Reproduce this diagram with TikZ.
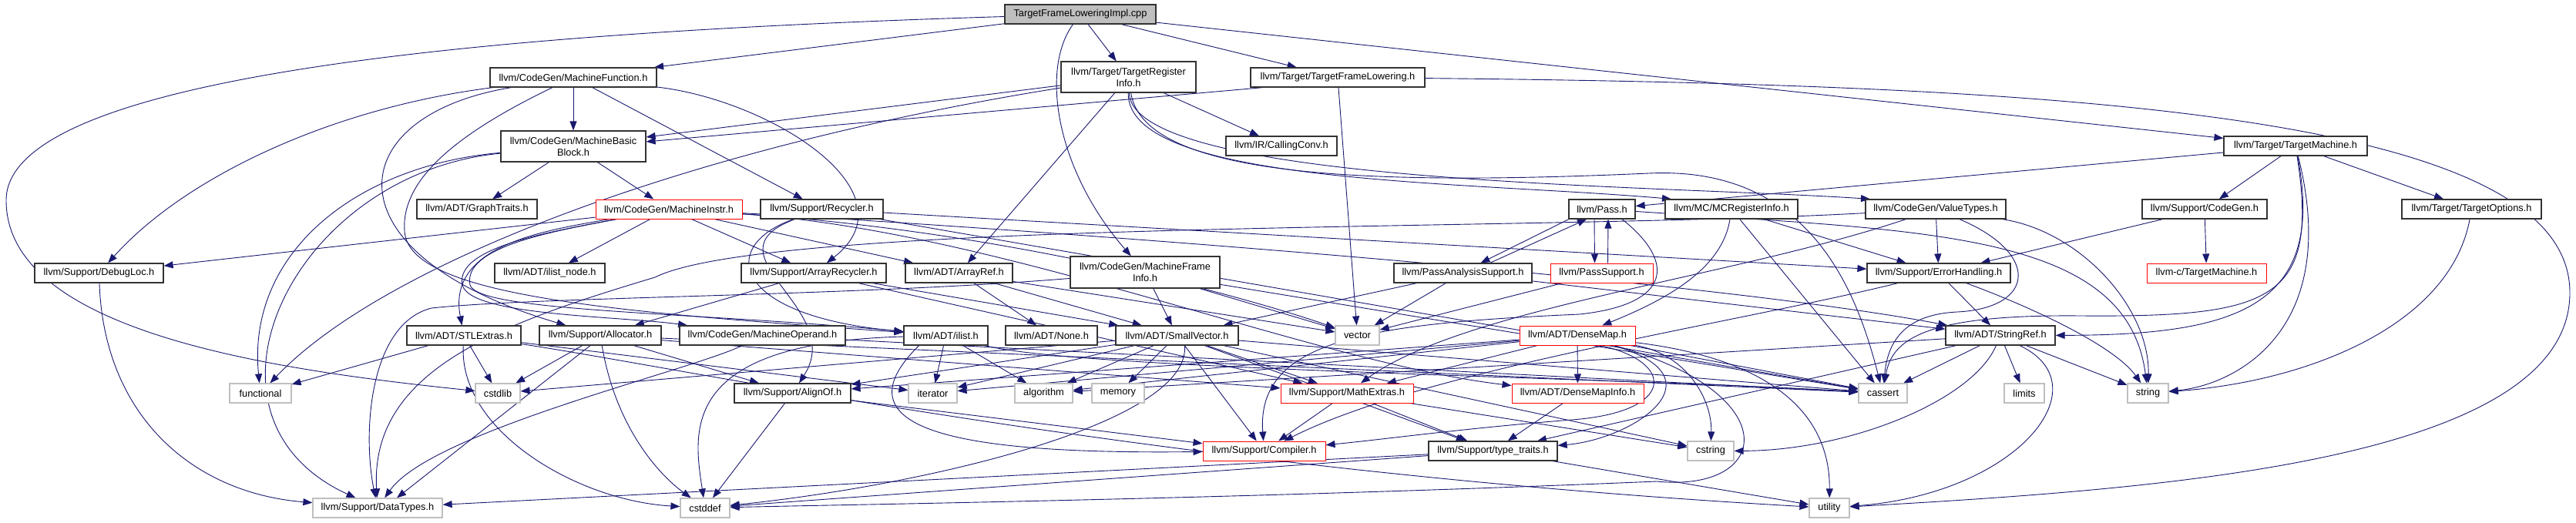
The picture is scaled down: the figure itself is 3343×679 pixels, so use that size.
\documentclass[tikz,border=0pt]{standalone}
\usepackage{fontspec}
\setmainfont{Liberation Sans}
\usetikzlibrary{arrows.meta, backgrounds}
\definecolor{edgeblue}{HTML}{191970}
\definecolor{sysgray}{HTML}{BFBFBF}
\newcommand{\hdrfont}{\fontsize{12.8}{15}\selectfont}

\begin{document}
\begin{tikzpicture}[x=1pt, y=-1pt,
    hdr/.style={draw=black!80, line width=1.2pt, fill=white, minimum height=25pt, inner sep=0pt, font=\hdrfont},
    hdrtwo/.style={hdr, minimum height=40pt, align=center},
    trunc/.style={hdr, draw=red, line width=1pt},
    sys/.style={hdr, draw=sysgray},
    rootbox/.style={hdr, fill=sysgray},
    dep/.style={draw=edgeblue, line width=0.9pt, -{Triangle[length=12pt, width=9pt]}}]
\useasboundingbox (0,0) rectangle (3343,679);

\node[rootbox, minimum width=196pt] (root) at (1402,18.5) {TargetFrameLoweringImpl.cpp};

\node[hdr, minimum width=216pt] (mfunc) at (744,100.5) {llvm/CodeGen/MachineFunction.h};
\node[hdrtwo, minimum width=175pt] (tri) at (1464.5,100) {llvm/Target/TargetRegister\\Info.h};
\node[hdr, minimum width=226pt] (tfl) at (1736,100.5) {llvm/Target/TargetFrameLowering.h};

\node[hdrtwo, minimum width=188pt] (mbb) at (744,190) {llvm/CodeGen/MachineBasic\\Block.h};
\node[hdr, minimum width=144pt] (callconv) at (1663,189.5) {llvm/IR/CallingConv.h};
\node[hdr, minimum width=186pt] (tm) at (2979,189.5) {llvm/Target/TargetMachine.h};

\node[hdr, minimum width=156pt] (graphtr) at (619,271.5) {llvm/ADT/GraphTraits.h};
\node[trunc, minimum width=190pt] (minstr) at (868,271.5) {llvm/CodeGen/MachineInstr.h};
\node[hdr, minimum width=159pt] (recyc) at (1066.5,271.5) {llvm/Support/Recycler.h};
\node[hdr, minimum width=86pt] (pass) at (2079,271.5) {llvm/Pass.h};
\node[hdr, minimum width=172pt] (mcri) at (2247,271.5) {llvm/MC/MCRegisterInfo.h};
\node[hdr, minimum width=182pt] (vtypes) at (2512,271.5) {llvm/CodeGen/ValueTypes.h};
\node[hdr, minimum width=162pt] (cgen) at (2861,271.5) {llvm/Support/CodeGen.h};
\node[hdr, minimum width=181pt] (topts) at (3207.5,271.5) {llvm/Target/TargetOptions.h};

\node[hdr, minimum width=167pt] (dbgloc) at (128.5,354.5) {llvm/Support/DebugLoc.h};
\node[hdr, minimum width=143pt] (ilnode) at (713.5,354.5) {llvm/ADT/ilist\_node.h};
\node[hdr, minimum width=188pt] (arecyc) at (1056,354.5) {llvm/Support/ArrayRecycler.h};
\node[hdr, minimum width=139pt] (aref) at (1244.5,354.5) {llvm/ADT/ArrayRef.h};
\node[hdrtwo, minimum width=194pt, minimum height=41pt] (mfi) at (1486,353.5) {llvm/CodeGen/MachineFrame\\Info.h};
\node[hdr, minimum width=179pt] (pas) at (1898.5,354.5) {llvm/PassAnalysisSupport.h};
\node[trunc, minimum width=133pt] (psup) at (2078.5,354.5) {llvm/PassSupport.h};
\node[hdr, minimum width=186pt] (errh) at (2516,354.5) {llvm/Support/ErrorHandling.h};
\node[trunc, minimum width=155pt] (ctm) at (2863.5,354.5) {llvm-c/TargetMachine.h};

\node[hdr, minimum width=148pt] (stlx) at (602,435.5) {llvm/ADT/STLExtras.h};
\node[hdr, minimum width=158pt] (alloc) at (779,435.5) {llvm/Support/Allocator.h};
\node[hdr, minimum width=215pt] (mop) at (989.5,435.5) {llvm/CodeGen/MachineOperand.h};
\node[hdr, minimum width=109pt] (ilist) at (1227.5,435.5) {llvm/ADT/ilist.h};
\node[hdr, minimum width=119pt] (none) at (1364.5,435.5) {llvm/ADT/None.h};
\node[hdr, minimum width=159pt] (svec) at (1527.5,435.5) {llvm/ADT/SmallVector.h};
\node[sys, minimum width=57pt] (vector) at (1761.5,435.5) {vector};
\node[trunc, minimum width=150pt] (dmap) at (2047,435.5) {llvm/ADT/DenseMap.h};
\node[hdr, minimum width=142pt] (sref) at (2596,435.5) {llvm/ADT/StringRef.h};

\node[sys, minimum width=80pt] (functional) at (338,510.5) {functional};
\node[sys, minimum width=58pt] (cstdlib) at (646,510.5) {cstdlib};
\node[hdr, minimum width=151pt] (alignof) at (1028.5,510.5) {llvm/Support/AlignOf.h};
\node[sys, minimum width=63pt] (iterator) at (1210.5,510.5) {iterator};
\node[sys, minimum width=75pt] (algorithm) at (1354.5,510.5) {algorithm};
\node[sys, minimum width=68pt] (memory) at (1451,510.5) {memory};
\node[trunc, minimum width=172pt] (mathx) at (1748,510.5) {llvm/Support/MathExtras.h};
\node[trunc, minimum width=171pt] (dmi) at (2047.5,510.5) {llvm/ADT/DenseMapInfo.h};
\node[sys, minimum width=63pt] (cassert) at (2443.5,510.5) {cassert};
\node[sys, minimum width=52pt] (limits) at (2627,510.5) {limits};
\node[sys, minimum width=53pt] (string) at (2787.5,510.5) {string};

\node[trunc, minimum width=159pt] (compiler) at (1640.5,585.5) {llvm/Support/Compiler.h};
\node[hdr, minimum width=167pt] (ttraits) at (1937.5,585.5) {llvm/Support/type\_traits.h};
\node[sys, minimum width=60pt] (cstring) at (2220,585.5) {cstring};

\node[sys, minimum width=168pt] (datatypes) at (490,659.5) {llvm/Support/DataTypes.h};
\node[sys, minimum width=64pt] (cstddef) at (915,659.5) {cstddef};
\node[sys, minimum width=52pt] (utility) at (2374,659.5) {utility};

\begin{scope}[on background layer]
\fill[white] (0,0) rectangle (3343,679);

\draw[dep] (root) .. controls (700,40) and (8,90) .. (8,260) .. controls (8,430) and (350,480) .. (cstdlib);
\foreach \tgt in {mfunc, tri, tfl, tm}
    \draw[dep] (root) -- (\tgt);
\draw[dep] (root) .. controls (1350,90) and (1370,220) .. (mfi);

\draw[dep] (mfunc) -- (mbb);
\draw[dep] (mfunc) -- (recyc);
\draw[dep] (mfunc) .. controls (430,140) and (240,230) .. (dbgloc);
\draw[dep] (mfunc) .. controls (440,150) and (420,330) .. (alloc);
\draw[dep] (mfunc) .. controls (600,170) and (520,230) .. (525,300) .. controls (530,385) and (800,405) .. (ilist);
\draw[dep] (mfunc) .. controls (1000,130) and (1190,250) .. (arecyc);

\draw[dep] (mbb) -- (graphtr);
\draw[dep] (mbb) -- (minstr);
\draw[dep] (mbb) .. controls (460,215) and (320,330) .. (functional);
\draw[dep] (mbb) .. controls (380,225) and (230,540) .. (datatypes);

\foreach \tgt in {dbgloc, ilnode, arecyc, aref}
    \draw[dep] (minstr) -- (\tgt);
\draw[dep] (minstr) .. controls (700,300) and (580,320) .. (stlx);
\draw[dep] (minstr) .. controls (720,300) and (590,320) .. (600,370) .. controls (610,410) and (800,410) .. (mop);
\draw[dep] (minstr) .. controls (720,300) and (600,320) .. (610,370) .. controls (620,405) and (900,405) .. (ilist);
\draw[dep] (minstr) .. controls (1300,300) and (1600,380) .. (vector);
\draw[dep] (minstr) .. controls (1300,300) and (1700,470) .. (dmi);
\draw[dep] (minstr) .. controls (1300,295) and (2200,360) .. (sref);

\draw[dep] (recyc) .. controls (930,320) and (950,410) .. (ilist);
\draw[dep] (recyc) .. controls (910,330) and (1100,400) .. (alignof);
\draw[dep] (recyc) -- (errh);
\draw[dep] (recyc) -- (cassert);

\foreach \tgt in {svec, alloc, mathx}
    \draw[dep] (arecyc) -- (\tgt);

\foreach \tgt in {callconv, aref}
    \draw[dep] (tri) -- (\tgt);
\draw[dep] (tri) -- ([yshift=12pt]mbb.east);
\draw[dep] (tri) .. controls (900,190) and (500,340) .. (functional);
\draw[dep] (tri) .. controls (1462,240) and (1900,235) .. ([xshift=-78pt]mcri.north);
\draw[dep] (tri) .. controls (1470,240) and (2150,240) .. ([xshift=-85pt]vtypes.north);
\draw[dep] (tri) .. controls (1485,235) and (1800,240) .. (2140,225) .. controls (2350,215) and (2410,380) .. (cassert);

\draw[dep] ([xshift=-97pt]tfl.south) -- ([yshift=6pt]mbb.east);
\draw[dep] (tfl) -- (vector);
\draw[dep] (tfl) .. controls (2700,110) and (3335,150) .. (3335,380) .. controls (3335,600) and (2800,635) .. (utility);

\foreach \tgt in {pass, cgen, topts}
    \draw[dep] (tm) -- (\tgt);
\draw[dep] (tm) .. controls (3010,390) and (2950,412) .. (2700,410) .. controls (2500,408) and (2455,440) .. (cassert);
\draw[dep] (tm) .. controls (3020,400) and (2900,435) .. (sref);
\draw[dep] (tm) .. controls (3040,430) and (2900,500) .. (string);

\foreach \tgt in {ctm, errh}
    \draw[dep] (cgen) -- (\tgt);
\draw[dep] (topts) .. controls (3180,420) and (3000,495) .. (string);

\draw[dep] ([xshift=-43pt]pass.south) -- ([xshift=23pt]pas.north);
\draw[dep] ([xshift=35pt]pas.north) -- ([xshift=-20pt]pass.south);
\draw[dep] ([xshift=-10pt]pass.south) -- ([xshift=-9pt]psup.north);
\draw[dep] ([xshift=8pt]psup.north) -- ([xshift=8pt]pass.south);
\draw[dep] (pass) .. controls (2500,300) and (2760,300) .. (string);
\draw[dep] ([xshift=26pt]pass.south) .. controls (2175,340) and (2170,395) .. (2050,408) .. controls (1780,420) and (1630,440) .. (compiler);

\foreach \tgt in {svec, vector, sref}
    \draw[dep] (pas) -- (\tgt);
\draw[dep] (psup) -- (vector);

\draw[dep] (mcri) .. controls (2235,350) and (2160,390) .. (dmap);
\draw[dep] (mcri) -- (errh);
\draw[dep] (mcri) -- (cassert);

\draw[dep] (vtypes) -- (errh);
\draw[dep] (vtypes) .. controls (2250,360) and (1900,400) .. (mathx);
\draw[dep] (vtypes) .. controls (2000,300) and (1000,285) .. (850,360) .. controls (650,420) and (480,480) .. (datatypes);
\draw[dep] (vtypes) .. controls (2650,330) and (2640,400) .. (2540,405) .. controls (2475,408) and (2450,440) .. (cassert);
\draw[dep] (vtypes) .. controls (2700,300) and (2790,400) .. (string);

\draw[dep] (mfi) -- (svec);
\draw[dep] (mfi) -- (vector);
\draw[dep] (mfi) -- (cassert);
\draw[dep] (mfi) .. controls (1100,385) and (700,385) .. (560,400) .. controls (480,420) and (470,560) .. (datatypes);

\draw[dep] (errh) -- (sref);
\draw[dep] (errh) .. controls (2250,420) and (1850,480) .. (compiler);
\draw[dep] (errh) .. controls (2640,400) and (2745,450) .. (string);

\draw[dep] (dbgloc) .. controls (135,540) and (250,640) .. (datatypes);

\foreach \tgt in {none, svec, vector}
    \draw[dep] (aref) -- (\tgt);

\foreach \tgt in {functional, cstdlib, iterator}
    \draw[dep] (stlx) -- (\tgt);
\draw[dep] (stlx) .. controls (900,480) and (1500,610) .. (utility);
\draw[dep] (stlx) .. controls (595,560) and (750,650) .. (cstddef);

\foreach \tgt in {cstdlib, alignof, cassert, mathx}
    \draw[dep] (alloc) -- (\tgt);
\draw[dep] ([xshift=-13pt]alloc.south) -- ([xshift=25pt]datatypes.north);
\draw[dep] (alloc) .. controls (800,560) and (860,620) .. (cstddef);

\draw[dep] (mop) .. controls (900,480) and (560,560) .. (datatypes);
\draw[dep] (mop) -- (cassert);

\foreach \tgt in {iterator, algorithm}
    \draw[dep] (ilist) -- (\tgt);
\draw[dep] (ilist) .. controls (880,445) and (900,560) .. (cstddef);
\draw[dep] ([xshift=-35pt]ilist.south) .. controls (1080,560) and (1250,590) .. (compiler);
\draw[dep] (ilist) .. controls (1400,480) and (2100,490) .. (cassert);

\foreach \tgt in {alignof, iterator, algorithm, memory, mathx, compiler, ttraits, cstring, cassert, cstdlib}
    \draw[dep] (svec) -- (\tgt);
\draw[dep] ([xshift=10pt]svec.south) .. controls (1545,550) and (1200,630) .. (cstddef);

\foreach \tgt in {dmi, alignof, algorithm, iterator, mathx, cassert}
    \draw[dep] (dmap) -- (\tgt);
\draw[dep] ([xshift=30pt]dmap.south) .. controls (2175,470) and (2175,535) .. (2040,545) .. controls (1900,556) and (1800,570) .. (compiler);
\draw[dep] (dmap) .. controls (2240,490) and (2120,570) .. (ttraits);
\draw[dep] (dmap) .. controls (2190,460) and (2222,520) .. (cstring);
\draw[dep] (dmap) .. controls (2320,510) and (2300,640) .. (2150,625) .. controls (1600,648) and (1100,655) .. (cstddef);
\draw[dep] (dmap) .. controls (2330,470) and (2375,560) .. (utility);

\foreach \tgt in {limits, string, cassert, ttraits, algorithm}
    \draw[dep] (sref) -- (\tgt);
\draw[dep] (sref) .. controls (2560,520) and (2400,585) .. (cstring);
\draw[dep] ([xshift=25pt]sref.south) .. controls (2730,500) and (2620,640) .. (utility);

\draw[dep] (alignof) -- (compiler);
\draw[dep] (alignof) -- (cstddef);

\foreach \tgt in {compiler, ttraits, cstring}
    \draw[dep] (mathx) -- (\tgt);
\draw[dep] (dmi) -- (ttraits);

\foreach \tgt in {cstddef, utility, datatypes}
    \draw[dep] (ttraits) -- (\tgt);
\end{scope}
\end{tikzpicture}
\end{document}
